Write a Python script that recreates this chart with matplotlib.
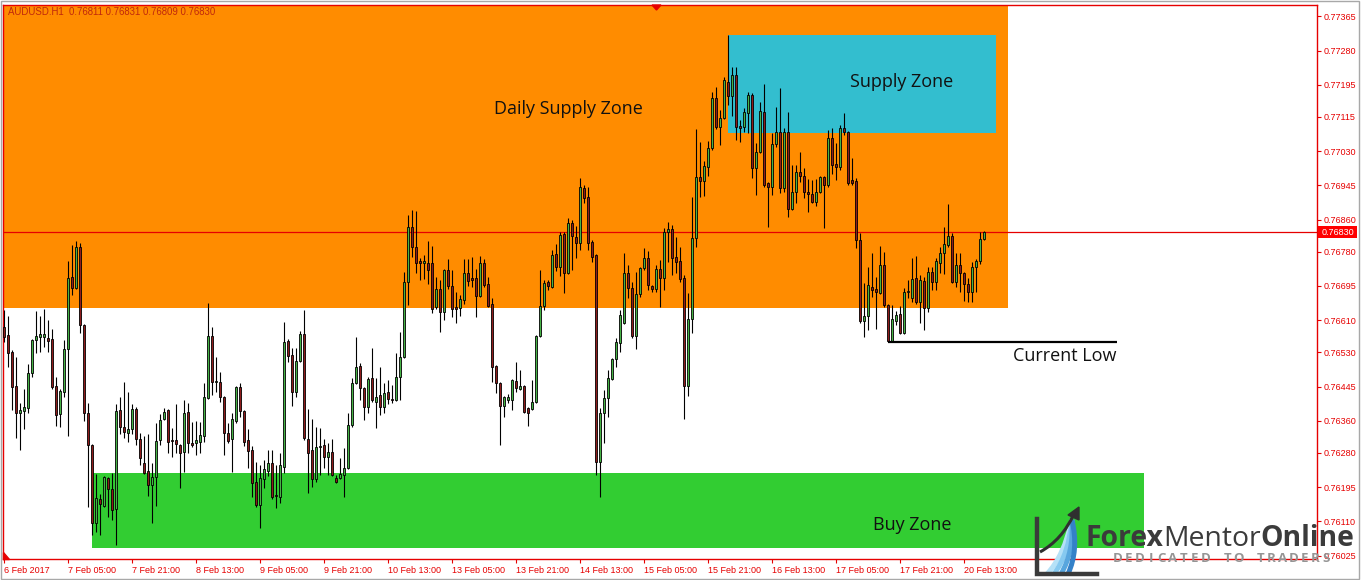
import matplotlib
matplotlib.use('Agg')
import matplotlib.pyplot as plt
from matplotlib.patches import Rectangle, Polygon, PathPatch
from matplotlib.path import Path
import numpy as np

# ---------------- data (AUDUSD H1) ----------------
opens = [
 0.76593, 0.76573, 0.76531, 0.76446, 0.76379, 0.76384, 0.76392, 0.76479, 0.76561, 0.76568, 0.76568, 0.76566,
 0.76563, 0.76446, 0.76377, 0.76431, 0.76538, 0.76717, 0.76690, 0.76792, 0.76598, 0.76379, 0.76300, 0.76106,
 0.76165, 0.76148, 0.76218, 0.76190, 0.76141, 0.76387, 0.76344, 0.76330, 0.76339, 0.76390, 0.76315, 0.76255,
 0.76235, 0.76200, 0.76220, 0.76312, 0.76364, 0.76387, 0.76312, 0.76312, 0.76300, 0.76282, 0.76382, 0.76305,
 0.76305, 0.76307, 0.76322, 0.76416, 0.76571, 0.76456, 0.76456, 0.76419, 0.76330, 0.76315, 0.76359, 0.76444,
 0.76384, 0.76312, 0.76287, 0.76208, 0.76151, 0.76215, 0.76235, 0.76255, 0.76175, 0.76170, 0.76245, 0.76558,
 0.76523, 0.76431, 0.76508, 0.76576, 0.76315, 0.76287, 0.76215, 0.76295, 0.76300, 0.76270, 0.76282, 0.76218,
 0.76218, 0.76225, 0.76242, 0.76349, 0.76454, 0.76496, 0.76441, 0.76394, 0.76466, 0.76406, 0.76424, 0.76394,
 0.76431, 0.76414, 0.76412, 0.76469, 0.76518, 0.76705, 0.76842, 0.76792, 0.76757, 0.76752, 0.76752, 0.76752,
 0.76643, 0.76687, 0.76630, 0.76735, 0.76695, 0.76643, 0.76640, 0.76660, 0.76727, 0.76715, 0.76715, 0.76670,
 0.76752, 0.76700, 0.76650, 0.76496, 0.76454, 0.76397, 0.76412, 0.76412, 0.76459, 0.76439, 0.76446, 0.76392,
 0.76389, 0.76406, 0.76571, 0.76645, 0.76705, 0.76692, 0.76774, 0.76742, 0.76824, 0.76727, 0.76851, 0.76817,
 0.76802, 0.76938, 0.76916, 0.76804, 0.76772, 0.76257, 0.76379, 0.76416, 0.76464, 0.76513, 0.76553, 0.76603,
 0.76727, 0.76690, 0.76571, 0.76675, 0.76740, 0.76764, 0.76695, 0.76687, 0.76737, 0.76715, 0.76829, 0.76836,
 0.76767, 0.76757, 0.76715, 0.76446, 0.76613, 0.76814, 0.76966, 0.76956, 0.76990, 0.77038, 0.77162, 0.77090,
 0.77112, 0.77202, 0.77167, 0.77219, 0.77092, 0.77090, 0.77125, 0.77169, 0.76988, 0.77028, 0.77127, 0.76951,
 0.76941, 0.77048, 0.77077, 0.76938, 0.77077, 0.76886, 0.76928, 0.76978, 0.76968, 0.76928, 0.76923, 0.76903,
 0.76928, 0.76966, 0.76946, 0.77062, 0.76998, 0.76990, 0.77087, 0.77077, 0.76958, 0.76956, 0.76809, 0.76608,
 0.76620, 0.76692, 0.76687, 0.76677, 0.76747, 0.76648, 0.76558, 0.76608, 0.76625, 0.76578, 0.76680, 0.76665,
 0.76715, 0.76655, 0.76707, 0.76640, 0.76730, 0.76705, 0.76752, 0.76777, 0.76797, 0.76819, 0.76705, 0.76747,
 0.76727, 0.76700, 0.76680, 0.76742, 0.76757, 0.76811]
highs = [
 0.76635, 0.76620, 0.76535, 0.76518, 0.76404, 0.76439, 0.76501, 0.76563, 0.76633, 0.76620, 0.76638, 0.76610,
 0.76588, 0.76469, 0.76439, 0.76561, 0.76757, 0.76797, 0.76807, 0.76802, 0.76600, 0.76404, 0.76302, 0.76228,
 0.76178, 0.76222, 0.76220, 0.76230, 0.76402, 0.76419, 0.76456, 0.76431, 0.76402, 0.76394, 0.76330, 0.76322,
 0.76327, 0.76255, 0.76354, 0.76377, 0.76392, 0.76389, 0.76342, 0.76402, 0.76302, 0.76412, 0.76404, 0.76357,
 0.76359, 0.76357, 0.76454, 0.76653, 0.76593, 0.76518, 0.76481, 0.76421, 0.76354, 0.76379, 0.76446, 0.76454,
 0.76386, 0.76339, 0.76297, 0.76257, 0.76250, 0.76262, 0.76287, 0.76287, 0.76250, 0.76280, 0.76605, 0.76563,
 0.76541, 0.76541, 0.76583, 0.76635, 0.76389, 0.76364, 0.76344, 0.76342, 0.76315, 0.76305, 0.76315, 0.76225,
 0.76267, 0.76292, 0.76379, 0.76466, 0.76568, 0.76503, 0.76443, 0.76469, 0.76541, 0.76466, 0.76494, 0.76454,
 0.76461, 0.76449, 0.76528, 0.76580, 0.76730, 0.76871, 0.76884, 0.76881, 0.76764, 0.76772, 0.76807, 0.76794,
 0.76717, 0.76710, 0.76737, 0.76762, 0.76735, 0.76680, 0.76672, 0.76762, 0.76762, 0.76767, 0.76737, 0.76769,
 0.76762, 0.76717, 0.76665, 0.76498, 0.76456, 0.76421, 0.76426, 0.76464, 0.76506, 0.76486, 0.76449, 0.76394,
 0.76461, 0.76573, 0.76735, 0.76710, 0.76710, 0.76784, 0.76799, 0.76829, 0.76829, 0.76864, 0.76859, 0.76844,
 0.76963, 0.76946, 0.76941, 0.76809, 0.76774, 0.76392, 0.76436, 0.76486, 0.76516, 0.76566, 0.76635, 0.76777,
 0.76747, 0.76705, 0.76730, 0.76742, 0.76789, 0.76782, 0.76697, 0.76747, 0.76759, 0.76839, 0.76854, 0.76846,
 0.76817, 0.76792, 0.76722, 0.76677, 0.76916, 0.77085, 0.77053, 0.77005, 0.77055, 0.77177, 0.77189, 0.77132,
 0.77214, 0.77319, 0.77239, 0.77239, 0.77107, 0.77137, 0.77177, 0.77174, 0.77050, 0.77152, 0.77197, 0.76953,
 0.77075, 0.77140, 0.77187, 0.77087, 0.77127, 0.76995, 0.76995, 0.77028, 0.76988, 0.76961, 0.76958, 0.76961,
 0.76968, 0.76968, 0.77082, 0.77087, 0.77050, 0.77095, 0.77125, 0.77079, 0.77013, 0.76963, 0.76826, 0.76702,
 0.76742, 0.76777, 0.76717, 0.76794, 0.76779, 0.76650, 0.76648, 0.76633, 0.76645, 0.76690, 0.76710, 0.76764,
 0.76769, 0.76722, 0.76717, 0.76742, 0.76742, 0.76764, 0.76792, 0.76842, 0.76898, 0.76826, 0.76777, 0.76777,
 0.76730, 0.76715, 0.76754, 0.76762, 0.76829, 0.76831]
lows = [
 0.76556, 0.76494, 0.76387, 0.76317, 0.76287, 0.76339, 0.76379, 0.76469, 0.76528, 0.76531, 0.76543, 0.76531,
 0.76439, 0.76347, 0.76344, 0.76419, 0.76322, 0.76672, 0.76688, 0.76578, 0.76359, 0.76146, 0.76076, 0.76083,
 0.76076, 0.76146, 0.76121, 0.76113, 0.76051, 0.76327, 0.76317, 0.76307, 0.76327, 0.76300, 0.76250, 0.76228,
 0.76173, 0.76106, 0.76148, 0.76300, 0.76362, 0.76280, 0.76270, 0.76280, 0.76193, 0.76233, 0.76280, 0.76295,
 0.76275, 0.76280, 0.76307, 0.76414, 0.76424, 0.76431, 0.76406, 0.76275, 0.76305, 0.76233, 0.76354, 0.76369,
 0.76297, 0.76242, 0.76170, 0.76146, 0.76093, 0.76193, 0.76223, 0.76165, 0.76143, 0.76156, 0.76230, 0.76506,
 0.76397, 0.76419, 0.76506, 0.76312, 0.76180, 0.76195, 0.76208, 0.76225, 0.76242, 0.76225, 0.76222, 0.76205,
 0.76215, 0.76170, 0.76240, 0.76344, 0.76452, 0.76412, 0.76362, 0.76379, 0.76406, 0.76342, 0.76374, 0.76379,
 0.76402, 0.76404, 0.76409, 0.76412, 0.76516, 0.76648, 0.76767, 0.76727, 0.76710, 0.76712, 0.76700, 0.76628,
 0.76638, 0.76580, 0.76610, 0.76687, 0.76618, 0.76603, 0.76620, 0.76650, 0.76695, 0.76692, 0.76618, 0.76667,
 0.76692, 0.76643, 0.76456, 0.76429, 0.76300, 0.76369, 0.76404, 0.76387, 0.76431, 0.76436, 0.76380, 0.76347,
 0.76387, 0.76404, 0.76568, 0.76635, 0.76685, 0.76690, 0.76732, 0.76720, 0.76677, 0.76725, 0.76735, 0.76764,
 0.76784, 0.76901, 0.76784, 0.76754, 0.76225, 0.76170, 0.76305, 0.76369, 0.76461, 0.76494, 0.76531, 0.76600,
 0.76665, 0.76566, 0.76538, 0.76667, 0.76735, 0.76685, 0.76680, 0.76680, 0.76643, 0.76685, 0.76754, 0.76722,
 0.76727, 0.76705, 0.76364, 0.76421, 0.76578, 0.76792, 0.76916, 0.76918, 0.76968, 0.77033, 0.77085, 0.77045,
 0.77110, 0.77145, 0.77117, 0.77058, 0.77053, 0.77077, 0.77075, 0.76963, 0.76921, 0.77025, 0.76941, 0.76842,
 0.76921, 0.77040, 0.76926, 0.76928, 0.76866, 0.76884, 0.76901, 0.76953, 0.76913, 0.76879, 0.76901, 0.76893,
 0.76926, 0.76839, 0.76941, 0.76973, 0.76958, 0.76983, 0.77070, 0.76946, 0.76946, 0.76789, 0.76603, 0.76568,
 0.76585, 0.76667, 0.76588, 0.76675, 0.76643, 0.76556, 0.76556, 0.76598, 0.76576, 0.76576, 0.76665, 0.76655,
 0.76650, 0.76603, 0.76585, 0.76630, 0.76685, 0.76685, 0.76727, 0.76725, 0.76792, 0.76702, 0.76692, 0.76680,
 0.76657, 0.76655, 0.76655, 0.76680, 0.76749, 0.76809]
closes = [
 0.76568, 0.76528, 0.76444, 0.76379, 0.76387, 0.76394, 0.76479, 0.76561, 0.76571, 0.76576, 0.76576, 0.76558,
 0.76444, 0.76374, 0.76434, 0.76538, 0.76715, 0.76690, 0.76792, 0.76598, 0.76379, 0.76300, 0.76106, 0.76168,
 0.76153, 0.76220, 0.76190, 0.76138, 0.76384, 0.76344, 0.76332, 0.76339, 0.76390, 0.76315, 0.76267, 0.76230,
 0.76200, 0.76220, 0.76310, 0.76362, 0.76382, 0.76307, 0.76310, 0.76302, 0.76280, 0.76379, 0.76305, 0.76300,
 0.76312, 0.76325, 0.76419, 0.76571, 0.76456, 0.76459, 0.76419, 0.76330, 0.76310, 0.76364, 0.76444, 0.76384,
 0.76307, 0.76285, 0.76205, 0.76151, 0.76218, 0.76240, 0.76255, 0.76170, 0.76173, 0.76250, 0.76556, 0.76521,
 0.76431, 0.76508, 0.76576, 0.76317, 0.76280, 0.76215, 0.76295, 0.76297, 0.76270, 0.76282, 0.76225, 0.76208,
 0.76228, 0.76242, 0.76349, 0.76454, 0.76494, 0.76441, 0.76394, 0.76464, 0.76412, 0.76419, 0.76394, 0.76429,
 0.76414, 0.76412, 0.76469, 0.76518, 0.76705, 0.76842, 0.76792, 0.76752, 0.76752, 0.76757, 0.76735, 0.76638,
 0.76687, 0.76630, 0.76735, 0.76695, 0.76638, 0.76638, 0.76662, 0.76727, 0.76707, 0.76710, 0.76670, 0.76752,
 0.76697, 0.76645, 0.76494, 0.76454, 0.76397, 0.76419, 0.76419, 0.76461, 0.76441, 0.76446, 0.76382, 0.76379,
 0.76406, 0.76571, 0.76645, 0.76702, 0.76695, 0.76772, 0.76742, 0.76821, 0.76727, 0.76851, 0.76819, 0.76802,
 0.76941, 0.76913, 0.76802, 0.76767, 0.76257, 0.76379, 0.76416, 0.76466, 0.76513, 0.76556, 0.76623, 0.76727,
 0.76690, 0.76571, 0.76675, 0.76740, 0.76764, 0.76697, 0.76687, 0.76737, 0.76715, 0.76829, 0.76836, 0.76764,
 0.76754, 0.76712, 0.76446, 0.76613, 0.76814, 0.76966, 0.76956, 0.76993, 0.77038, 0.77162, 0.77090, 0.77112,
 0.77207, 0.77167, 0.77219, 0.77090, 0.77087, 0.77127, 0.77169, 0.76988, 0.77028, 0.77130, 0.76946, 0.76941,
 0.77048, 0.77077, 0.76938, 0.77077, 0.76886, 0.76928, 0.76978, 0.76968, 0.76928, 0.76923, 0.76903, 0.76928,
 0.76966, 0.76946, 0.77062, 0.76995, 0.76990, 0.77087, 0.77077, 0.76951, 0.76951, 0.76809, 0.76608, 0.76620,
 0.76697, 0.76685, 0.76680, 0.76747, 0.76648, 0.76558, 0.76613, 0.76623, 0.76578, 0.76680, 0.76682, 0.76712,
 0.76655, 0.76710, 0.76640, 0.76730, 0.76705, 0.76757, 0.76777, 0.76799, 0.76819, 0.76705, 0.76747, 0.76727,
 0.76700, 0.76680, 0.76742, 0.76757, 0.76811, 0.76830]

assert len(opens) == len(highs) == len(lows) == len(closes) == 246

x_tick_bars = [0, 16, 32, 48, 64, 80, 96, 112, 128, 144, 160, 176, 192, 208, 224, 240]
x_tick_labels = ["6 Feb 2017", "7 Feb 05:00", "7 Feb 21:00", "8 Feb 13:00", "9 Feb 05:00",
                 "9 Feb 21:00", "10 Feb 13:00", "13 Feb 05:00", "13 Feb 21:00", "14 Feb 13:00",
                 "15 Feb 05:00", "15 Feb 21:00", "16 Feb 13:00", "17 Feb 05:00", "17 Feb 21:00",
                 "20 Feb 13:00"]
y_tick_values = [0.77365, 0.77280, 0.77195, 0.77115, 0.77030, 0.76945, 0.76860, 0.76780,
                 0.76695, 0.76610, 0.76530, 0.76445, 0.76360, 0.76280, 0.76195, 0.76110, 0.76025]
current_price = 0.76830
header = "AUDUSD.H1  0.76811 0.76831 0.76809 0.76830"

# zones: (bar_start, bar_end, price_low, price_high)
daily_supply_zone = (-1.0, 251.0, 0.76641, 0.7750)
supply_zone = (181.0, 247.9, 0.77076, 0.77319)
buy_zone = (22.1, 285.0, 0.76043, 0.76230)
current_low = (221.0, 278.2, 0.76556)

# ---------------- figure ----------------
W, H = 1362, 580
fig = plt.figure(figsize=(W / 100, H / 100), dpi=100)
fig.patch.set_facecolor('white')
ax = fig.add_axes([3 / W, 1 - 559 / H, (1317 - 3) / W, (559 - 5) / H])
ax.set_facecolor('white')

RED = '#E60000'
ORANGE = '#FF8C00'
CYAN = '#33BECF'
LIME = '#32CD32'
BULL = '#46B346'
BEAR = '#8E1C1C'

o = np.array(opens); h = np.array(highs); l = np.array(lows); c = np.array(closes)
xs = np.arange(len(o))

for (x0, x1, y0, y1), col in [(daily_supply_zone, ORANGE), (supply_zone, CYAN), (buy_zone, LIME)]:
    ax.add_patch(Rectangle((x0, y0), x1 - x0, y1 - y0, facecolor=col, edgecolor='none', zorder=1))

ax.axhline(current_price, color=RED, lw=0.9, zorder=2)

ax.vlines(xs, l, h, color='black', lw=0.8, zorder=3)
up = c >= o
bottoms = np.minimum(o, c)
heights = np.maximum(np.abs(c - o), 0.00001)
ax.bar(xs, heights, bottom=bottoms, width=0.64, color=np.where(up, BULL, BEAR),
       edgecolor='black', linewidth=0.6, zorder=4)

ax.plot([current_low[0], current_low[1]], [current_low[2], current_low[2]], color='black', lw=1.6, zorder=5,
        solid_capstyle='butt')

tfont = dict(family='Open Sans', fontsize=13, color='#111111', zorder=6)
ax.text(141, 0.77135, 'Daily Supply Zone', ha='center', va='center', **tfont)
ax.text(224.5, 0.77202, 'Supply Zone', ha='center', va='center', **tfont)
ax.text(265.2, 0.76521, 'Current Low', ha='center', va='center', **tfont)
ax.text(227, 0.76101, 'Buy Zone', ha='center', va='center', **tfont)

ax.set_xlim(-0.25, 328.25)
ax.set_ylim(0.760164, 0.773931)

ax.yaxis.tick_right()
ax.set_yticks(y_tick_values)
ax.set_yticklabels([f'{v:.5f}' for v in y_tick_values])
ax.set_xticks(x_tick_bars)
ax.set_xticklabels(x_tick_labels)
for lbl in ax.get_xticklabels():
    lbl.set_ha('left')
ax.tick_params(axis='both', colors=RED, labelcolor=RED, labelsize=6.5, length=3, width=0.8, pad=2)
for t in ax.get_xticklabels() + ax.get_yticklabels():
    t.set_family('Liberation Sans')
for s in ax.spines.values():
    s.set_color(RED)
    s.set_linewidth(1.0)

# ---------------- overlay in pixel space ----------------
ov = fig.add_axes([0, 0, 1, 1])
ov.set_xlim(0, W)
ov.set_ylim(H, 0)
ov.axis('off')
ov.patch.set_alpha(0)
ov.set_zorder(5)

ov.add_patch(Rectangle((0.5, 0.5), 1358.5, 578.5, fill=False, edgecolor='#a8a8a8', lw=1))
ov.text(8, 12, header, color='#C0280C', fontsize=6.9, family='Liberation Sans', va='center', ha='left')
ov.add_patch(Polygon([(652, 5), (661, 5), (656.5, 10)], closed=True, color=RED))
ov.add_patch(Polygon([(3, 552), (3, 559), (9, 559)], closed=True, color=RED))

# current price label
ov.add_patch(Rectangle((1318, 226), 39, 12, facecolor='#FF0000', edgecolor='none'))
ov.text(1337.5, 232.3, f'{current_price:.5f}', color='white', fontsize=6.5, family='Liberation Sans',
        ha='center', va='center')

# logo icon
ov.plot([1037, 1037, 1097], [519, 574, 574], color='#3a3a3a', lw=3.2, solid_joinstyle='miter')
for k, col in enumerate(['#b5e1f7', '#86c9f0', '#58a6de', '#3481c8']):
    verts = [(1047 + 7 * k, 574), (1064 + 5 * k, 556 - 2 * k), (1072, 520)]
    ov.add_patch(PathPatch(Path(verts, [Path.MOVETO, Path.CURVE3, Path.CURVE3]),
                           fill=False, edgecolor=col, lw=3.6))
ov.add_patch(PathPatch(Path([(1040, 552), (1062, 540), (1074, 514)],
                            [Path.MOVETO, Path.CURVE3, Path.CURVE3]),
                       fill=False, edgecolor='#2f2f2f', lw=2.2))
ov.add_patch(Polygon([(1068, 515), (1079, 507), (1079, 520)], closed=True, color='#2f2f2f'))

# logo text
fig.canvas.draw()
r = fig.canvas.get_renderer()
parts = [('Forex', 'bold'), ('Mentor', 'normal'), ('Online', 'bold')]
fs = 18
def draw_parts(fs):
    arts = []
    xcur = 1085
    for s, wgt in parts:
        t = ov.text(xcur, 546.5, s, fontsize=fs, fontweight=wgt, family='Open Sans', color='#3b3b3b',
                    ha='left', va='baseline')
        bb = t.get_window_extent(renderer=r)
        xcur += bb.width
        arts.append(t)
    return arts, xcur - 1085
arts, width = draw_parts(fs)
for a in arts:
    a.remove()
fs2 = fs * 270 / width
arts, width = draw_parts(fs2)

tag = "DEDICATED TO TRADERS"
step = 220 / len(tag)
for i, ch in enumerate(tag):
    ov.text(1112 + (i + 0.5) * step, 558, ch, fontsize=9.5, fontweight='bold', family='Open Sans',
            color='#959595', ha='center', va='center')

fig.savefig('out.png', dpi=100, facecolor='white')
